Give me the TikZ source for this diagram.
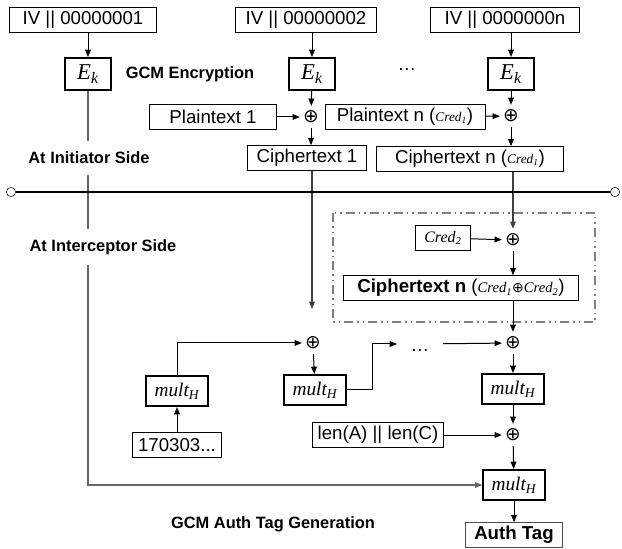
\documentclass[tikz,border=0pt]{standalone}
\usepackage{fontspec}
\setmainfont{Liberation Sans}
\newfontfamily\varfont{Liberation Serif}
\newfontfamily\symfont{DejaVu Sans}
\usetikzlibrary{arrows.meta}
\newcommand{\vsym}[2]{{\varfont\itshape #1\textsubscript{#2}}}
\newcommand{\xorsym}{{\symfont ⊕}}

\begin{document}
\begin{tikzpicture}[x=0.75pt,y=-0.75pt,>={Triangle[length=5.5pt,width=4.3pt]},
	font=\fontsize{14}{16}\selectfont,
	box/.style={draw,line width=0.6pt,inner sep=0pt,minimum height=18.5pt},
	fbox/.style={draw,line width=1.5pt,inner sep=0pt,minimum width=34pt,minimum height=24pt,font=\fontsize{17}{18}\selectfont},
	mbox/.style={draw,line width=1.5pt,inner sep=0pt,minimum width=46pt,minimum height=22.5pt,font=\fontsize{14.5}{16}\selectfont},
	xor/.style={circle,inner sep=0.5pt,font=\fontsize{14}{15}\selectfont},
	lbl/.style={font=\fontsize{12.3}{14}\selectfont\bfseries},
	wire/.style={->,line width=0.75pt},
	link/.style={line width=0.9pt,black!75}]
	\useasboundingbox (0,0) rectangle (622,549);
	% encryption side
	\node[box,minimum width=110pt] (iv1) at (83,20) {IV || 00000001};
	\node[box,minimum width=106pt] (iv2) at (306,20) {IV || 00000002};
	\node[box,minimum width=112pt] (ivn) at (505,20) {IV || 0000000n};
	\node[fbox] (ek1) at (88,74) {\vsym{E}{k}};
	\node[fbox] (ek2) at (312,74) {\vsym{E}{k}};
	\node[fbox] (ekn) at (511,74) {\vsym{E}{k}};
	\node (dots1) at (407,70) {\dots};
	\node[xor] (x1) at (311,117) {\xorsym};
	\node[xor] (xn) at (511,116) {\xorsym};
	\node[box,minimum width=95pt] (pt1) at (213,117) {Plaintext 1};
	\node[box,minimum width=120pt] (ptn) at (405,117) {Plaintext n ({\fontsize{10}{12}\selectfont\vsym{Cred}{1}})};
	\node[box,minimum width=89pt] (ct1) at (307,158) {Ciphertext 1};
	\node[box,minimum width=140pt] (ctn) at (470,159) {Ciphertext n ({\fontsize{10}{12}\selectfont\vsym{Cred}{1}})};
	\draw[wire] (ek1 |- iv1.south) -- (ek1);
	\draw[wire] (ek2 |- iv2.south) -- (ek2);
	\draw[wire] (ekn |- ivn.south) -- (ekn);
	\draw[wire] (ek2) -- (x1);
	\draw[wire] (ekn) -- (xn);
	\draw[wire] (pt1) -- (x1);
	\draw[wire] (ptn) -- (xn);
	\draw[wire] (x1) -- (x1 |- ct1.north);
	\draw[wire] (xn) -- (xn |- ctn.north);
	% interceptor side
	\draw[black!50,line width=1pt,dash pattern=on 7pt off 3pt on 1pt off 3pt on 1pt off 3pt] (333,213) rectangle (595,322);
	\node[xor] (xc) at (513,240) {\xorsym};
	\node[box,minimum width=41pt] (cred2) at (443,238) {\fontsize{12}{14}\selectfont\vsym{Cred}{2}};
	\node[box,minimum width=176pt] (ctx) at (461,288) {\textbf{Ciphertext n} ({\fontsize{11}{12}\selectfont\vsym{Cred}{1}{\fontsize{10.5}{11}\selectfont\xorsym}\vsym{Cred}{2}})};
	\coordinate (ct1end) at (312,309);
	\draw[wire,link] (ct1end |- ct1.south) -- (ct1end);
	\draw[wire,link] (xc |- ctn.south) -- (xc);
	\draw[wire] (cred2) -- (xc);
	\draw[wire] (xc) -- (xc |- ctx.north);
	% auth tag
	\node[xor] (xa) at (313,343) {\xorsym};
	\node[xor] (xb) at (513,343) {\xorsym};
	\node[xor] (xd) at (513,435) {\xorsym};
	\node[inner xsep=10pt,inner ysep=0pt,text height=12pt,text depth=0pt] (dots2) at (420,344) {\dots};
	\node[mbox] (mh1) at (177,391) {\vsym{mult}{H}};
	\node[mbox] (mh2) at (315,390) {\vsym{mult}{H}};
	\node[mbox] (mh3) at (513,389) {\vsym{mult}{H}};
	\node[mbox] (mh4) at (514,485) {\vsym{mult}{H}};
	\node[box,minimum width=67pt] (seed) at (177,445) {170303...};
	\node[box,minimum width=98pt] (lens) at (378,435) {len(A) || len(C)};
	\node[box,draw=black!70,minimum width=73pt,font=\fontsize{14}{16}\selectfont\bfseries] (tag) at (514,535) {Auth Tag};
	\draw[wire] (xb |- ctx.south) -- (xb);
	\draw[wire] (seed) -- (mh1);
	\draw[wire] (mh1.north) |- (xa);
	\draw[wire] (xa) -- (mh2);
	\draw[wire] (mh2.east) -- ++(26,0) |- (dots2);
	\draw[wire] (dots2) -- (xb);
	\draw[wire] (xb) -- (mh3);
	\draw[wire] (mh3) -- (xd);
	\draw[wire] (lens) -- (xd);
	\draw[wire] (xd) -- (mh4);
	\draw[wire] (mh4) -- (tag);
	\draw[wire,link,black!60] (ek1) |- (mh4);
	% boundary
	\node[circle,draw,fill=white,inner sep=0pt,minimum size=7pt] (lend) at (11,192) {};
	\node[circle,draw,fill=white,inner sep=0pt,minimum size=7pt] (rend) at (615,192) {};
	\draw[line width=1.2pt] (lend) -- (rend);
	% labels
	\node[lbl] (enc) at (190,74) {GCM Encryption};
	\node[lbl,fill=white,inner ysep=8pt] (init) at (89,158) {At Initiator Side};
	\node[lbl,fill=white,inner ysep=8pt] (inter) at (103,247) {At Interceptor Side};
	\node[lbl] (gen) at (273,524) {GCM Auth Tag Generation};
\end{tikzpicture}
\end{document}
